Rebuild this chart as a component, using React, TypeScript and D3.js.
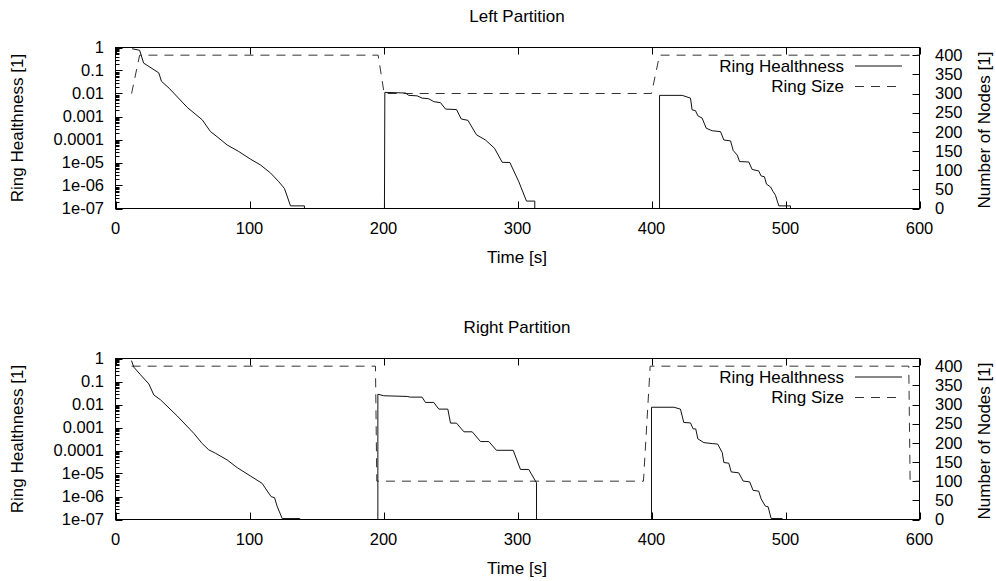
import React from 'react';
import * as d3 from 'd3';

const W = 996;
const H = 581;
const FONT = '"Liberation Sans", Arial, Helvetica, sans-serif';

const timeTicks = [0, 100, 200, 300, 400, 500, 600];
const healthTicks = [1, 0.1, 0.01, 0.001, 0.0001, 1e-5, 1e-6, 1e-7];
const healthTickLabels = ['1', '0.1', '0.01', '0.001', '0.0001', '1e-05', '1e-06', '1e-07'];
const nodeTicks = [0, 50, 100, 150, 200, 250, 300, 350, 400];

// Left partition (top panel)
const leftHealthT = [
  12.4, 18, 21, 32.3, 34.3, 40, 53.5, 64.7, 70.9, 77.1, 83.3, 92, 100.7, 108.2, 115.7, 121.9, 126.1, 130.6, 141, 141,
  200.7, 201, 216.4, 218.9, 225.1, 228.8, 233.8, 237.6, 242.5, 246.3, 254.5, 258, 263, 269.4, 276.1, 282.8, 288.6, 294.3, 301, 306.7, 312.9, 312.9,
  406, 406, 422.9, 429.1, 430.3, 432.8, 434.6, 437.8, 440.8, 445.3, 451.5, 454, 459, 461, 464, 465.7, 472.6, 475.1, 480, 481.8, 484.3, 485.8, 488.8, 490.8, 492.5, 495, 503.7, 503.7,
];
const leftHealthV = [
  0.88, 0.76, 0.21, 0.079, 0.034, 0.017, 2.5e-3, 7.2e-4, 2.2e-4, 1.15e-4, 5.8e-5, 3.0e-5, 1.4e-5, 7.8e-6, 3.5e-6, 1.45e-6, 7.4e-7, 1.3e-7, 1.3e-7, 0,
  0, 0.0112, 0.0105, 8.3e-3, 7.9e-3, 6.3e-3, 5.9e-3, 4.4e-3, 4.0e-3, 2.1e-3, 2.0e-3, 7.8e-4, 6.8e-4, 1.6e-4, 9.5e-5, 4.2e-5, 1.02e-5, 1.0e-5, 1.45e-6, 2.1e-7, 2.1e-7, 0,
  0, 8.3e-3, 8.3e-3, 6.3e-3, 1.95e-3, 1.8e-3, 1.07e-3, 8.5e-4, 3.1e-4, 2.4e-4, 2.2e-4, 9.5e-5, 8.7e-5, 3.3e-5, 2.1e-5, 1.1e-5, 1.05e-5, 5.0e-6, 4.3e-6, 2.6e-6, 2.4e-6, 1.15e-6, 8.7e-7, 5.4e-7, 3.8e-7, 1.3e-7, 1.3e-7, 0,
];
const leftSizeT = [12, 18, 196, 200.5, 400, 406, 600];
const leftSizeV = [300, 400, 400, 300, 300, 400, 400];

// Right partition (bottom panel)
const rightHealthT = [
  11.9, 13.7, 18.7, 24.9, 28.6, 33.6, 46, 58.4, 64.7, 69.6, 74.6, 83.3, 90.8, 100.7, 109.5, 113.2, 116.2, 118.7, 120.6, 124.4, 137.5, 137.5,
  195.8, 195.8, 200.2, 217.6, 220, 228.8, 231.3, 237.5, 241.3, 248, 250, 254.5, 260, 266.2, 272.4, 278.6, 284.3, 296.8, 302.2, 308.4, 314.2, 314.2,
  400, 400, 416.7, 421.6, 424.1, 429.1, 431.1, 433, 434.6, 439.1, 445.3, 449.4, 452.8, 454, 457.7, 459.5, 465.1, 468.4, 473.3, 475.8, 480, 481.8, 485, 487, 489.3, 497.5, 497.5,
];
const rightHealthV = [
  0.81, 0.42, 0.195, 0.078, 0.026, 0.016, 3.2e-3, 5.6e-4, 2.0e-4, 1.07e-4, 7.6e-5, 3.9e-5, 1.8e-5, 7.8e-6, 3.7e-6, 1.74e-6, 9.8e-7, 8.9e-7, 3.8e-7, 1.1e-7, 1.1e-7, 0,
  0, 0.028, 0.024, 0.0224, 0.0209, 0.0209, 0.0123, 0.0123, 6.3e-3, 6.3e-3, 1.55e-3, 1.55e-3, 6.5e-4, 6.5e-4, 2.45e-4, 2.45e-4, 1.02e-4, 1.02e-4, 1.5e-5, 1.5e-5, 3.9e-6, 0,
  0, 7.6e-3, 7.6e-3, 6.3e-3, 1.66e-3, 1.58e-3, 8.7e-4, 8.7e-4, 3.2e-4, 2.2e-4, 2.0e-4, 1.9e-4, 8.1e-5, 3.0e-5, 2.8e-5, 1.17e-5, 1.07e-5, 4.7e-6, 4.3e-6, 1.86e-6, 1.7e-6, 7.9e-7, 3.8e-7, 3.6e-7, 1.1e-7, 1.1e-7, 0,
];
const rightSizeT = [12, 194, 195, 394, 399, 592, 593, 600];
const rightSizeV = [400, 400, 100, 100, 400, 400, 100, 100];

const Panel = ({ id, top, title, healthT, healthV, sizeT, sizeV }) => {
  const bottom = top + 161;
  const left = 115.5;
  const right = 919.5;
  const x = d3.scaleLinear().domain([0, 600]).range([left, right]);
  const y = d3.scaleLog().domain([1e-7, 1]).range([bottom, top]);
  const yN = d3.scaleLinear().domain([0, 420]).range([bottom, top]);

  const healthLine = d3
    .line<number>()
    .x((d, i) => x(healthT[i]))
    .y((d) => (d > 0 ? y(d) : bottom));
  const sizeLine = d3
    .line<number>()
    .x((d, i) => x(sizeT[i]))
    .y((d) => yN(d));

  const minor: number[] = [];
  for (let e = -7; e < 0; e++) {
    for (let k = 2; k <= 9; k++) minor.push(k * Math.pow(10, e));
  }

  const midY = (top + bottom) / 2;
  const legY = top + 24;

  return (
    <g>
      <defs>
        <clipPath id={id}>
          <rect x={left} y={top} width={right - left} height={bottom - top} />
        </clipPath>
      </defs>
      <text x={517} y={top - 25.5} textAnchor="middle" fontSize={17}>{title}</text>

      {/* x ticks, bottom and mirrored top */}
      {timeTicks.map((t) => (
        <g key={'x' + t}>
          <line x1={Math.round(x(t)) + 0.5} x2={Math.round(x(t)) + 0.5} y1={bottom} y2={bottom - 7} stroke="#000" />
          <line x1={Math.round(x(t)) + 0.5} x2={Math.round(x(t)) + 0.5} y1={top} y2={top + 7} stroke="#000" />
          <text x={x(t)} y={bottom + 25} textAnchor="middle" fontSize={16.5}>{t}</text>
        </g>
      ))}

      {/* left log axis */}
      {healthTicks.map((v, i) => (
        <g key={'h' + v}>
          <line x1={left} x2={left + 7} y1={Math.round(y(v)) + 0.5} y2={Math.round(y(v)) + 0.5} stroke="#000" />
          <text x={104} y={y(v)} dy="0.35em" textAnchor="end" fontSize={16.5}>{healthTickLabels[i]}</text>
        </g>
      ))}
      {minor.map((v) => (
        <line key={'m' + v} x1={left} x2={left + 4} y1={Math.round(y(v)) + 0.5} y2={Math.round(y(v)) + 0.5} stroke="#000" />
      ))}

      {/* right linear axis */}
      {nodeTicks.map((n) => (
        <g key={'n' + n}>
          <line x1={right} x2={right - 7} y1={Math.round(yN(n)) + 0.5} y2={Math.round(yN(n)) + 0.5} stroke="#000" />
          <text x={935} y={yN(n)} dy="0.35em" textAnchor="start" fontSize={16.5}>{n}</text>
        </g>
      ))}

      <g clipPath={`url(#${id})`}>
        <path d={sizeLine(sizeV) || ''} fill="none" stroke="#333" strokeWidth={1} strokeDasharray="9,7" />
        <path d={healthLine(healthV) || ''} fill="none" stroke="#111" strokeWidth={1} />
      </g>

      <rect x={left} y={top} width={right - left} height={bottom - top} fill="none" stroke="#000" strokeWidth={1} />

      {/* legend */}
      <text x={844} y={legY} textAnchor="end" fontSize={17}>Ring Healthness</text>
      <line x1={855} x2={902} y1={legY - 5.5} y2={legY - 5.5} stroke="#111" />
      <text x={844} y={legY + 20.5} textAnchor="end" fontSize={17}>Ring Size</text>
      <line x1={855} x2={902} y1={legY + 15} y2={legY + 15} stroke="#333" strokeDasharray="9,7" />

      {/* axis titles */}
      <text transform={`translate(23,${midY}) rotate(-90)`} textAnchor="middle" fontSize={17}>Ring Healthness [1]</text>
      <text transform={`translate(990,${midY + 2}) rotate(-90)`} textAnchor="middle" fontSize={17}>Number of Nodes [1]</text>
      <text x={517} y={bottom + 54} textAnchor="middle" fontSize={17}>Time [s]</text>
    </g>
  );
};

export default function App() {
  return (
    <svg
      width={W}
      height={H}
      viewBox={`0 0 ${W} ${H}`}
      style={{ position: 'absolute', left: 0, top: 0, background: '#fff' }}
      fontFamily={FONT}
      fill="#000"
    >
      <rect width={W} height={H} fill="#fff" />
      <Panel id="clipL" top={47.5} title="Left Partition" healthT={leftHealthT} healthV={leftHealthV} sizeT={leftSizeT} sizeV={leftSizeV} />
      <Panel id="clipR" top={358.5} title="Right Partition" healthT={rightHealthT} healthV={rightHealthV} sizeT={rightSizeT} sizeV={rightSizeV} />
    </svg>
  );
}
